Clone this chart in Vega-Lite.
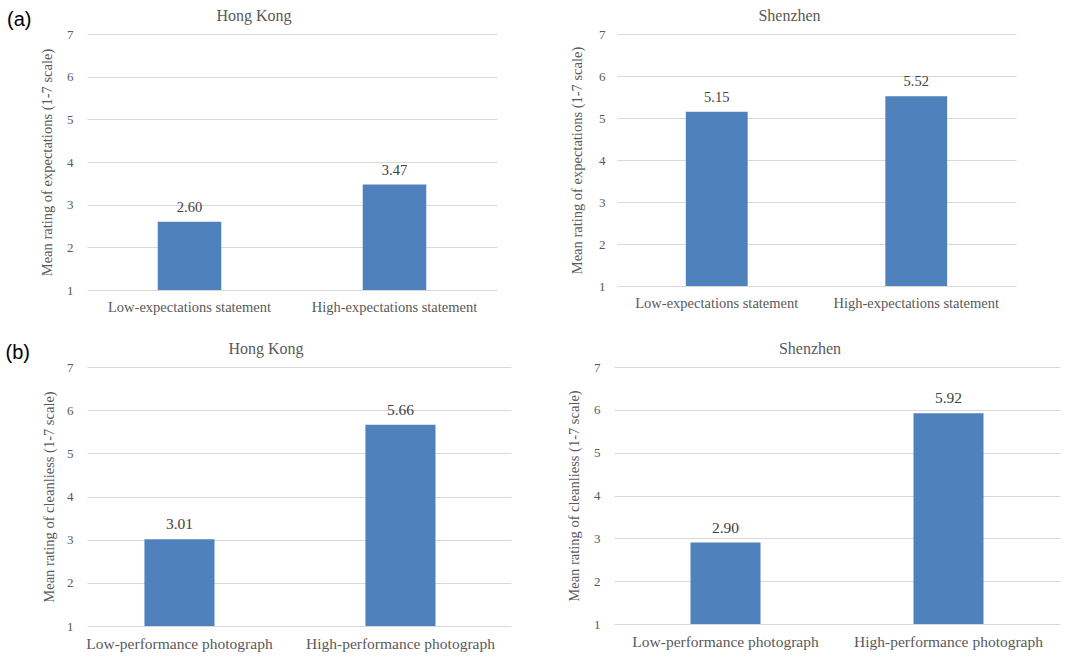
{
  "$schema": "https://vega.github.io/schema/vega-lite/v6.json",
  "padding": {"left": 5, "top": 8, "right": 5, "bottom": 5},
  "background": "white",
  "datasets": {
    "ratings": [
      {"panel": "a-HK", "condition": "Low-expectations statement", "mean": 2.60},
      {"panel": "a-HK", "condition": "High-expectations statement", "mean": 3.47},
      {"panel": "a-SZ", "condition": "Low-expectations statement", "mean": 5.15},
      {"panel": "a-SZ", "condition": "High-expectations statement", "mean": 5.52},
      {"panel": "b-HK", "condition": "Low-performance photograph", "mean": 3.01},
      {"panel": "b-HK", "condition": "High-performance photograph", "mean": 5.66},
      {"panel": "b-SZ", "condition": "Low-performance photograph", "mean": 2.90},
      {"panel": "b-SZ", "condition": "High-performance photograph", "mean": 5.92}
    ]
  },
  "config": {
    "view": {"stroke": null},
    "axis": {
      "labelFont": "Times New Roman, Liberation Serif, DejaVu Serif, serif",
      "titleFont": "Times New Roman, Liberation Serif, DejaVu Serif, serif",
      "labelColor": "#595959",
      "titleColor": "#595959",
      "titleFontWeight": "normal",
      "gridColor": "#d9d9d9",
      "gridWidth": 1,
      "domain": false,
      "ticks": false,
      "labelLimit": 0
    },
    "title": {
      "font": "Times New Roman, Liberation Serif, DejaVu Serif, serif",
      "fontWeight": "normal",
      "color": "#595959",
      "fontSize": 16
    }
  },
  "spacing": 27,
  "vconcat": [
    {
      "title": {"text": "(a)", "orient": "top", "anchor": "start", "offset": -22, "dx": -12, "font": "Liberation Sans, Arial, sans-serif", "fontSize": 20, "color": "#000000", "fontWeight": "normal"},
      "spacing": 72,
      "hconcat": [
        {
          "title": {"text": "Hong Kong", "dx": -38},
          "width": 410,
          "height": 256,
          "data": {"name": "ratings"},
          "transform": [{"filter": "datum.panel === 'a-HK'"}],
          "resolve": {"scale": {"y": "independent"}},
          "encoding": {
            "x": {"field": "condition", "type": "nominal", "sort": null, "scale": {"paddingInner": 0.69, "paddingOuter": 0.345}, "axis": {"title": null, "labelAngle": 0, "labelFontSize": 14.5, "labelPadding": 10, "grid": false}}
          },
          "layer": [
            {"mark": {"type": "bar", "color": "#4f81bd"}, "encoding": {
              "y": {"field": "mean", "type": "quantitative", "scale": {"domain": [1, 7]}, "axis": {"title": "Mean rating of expectations (1-7 scale)", "titleFontSize": 14.5, "labelFontSize": 13, "values": [1, 2, 3, 4, 5, 6, 7], "labelPadding": 14, "titlePadding": 12}},
              "y2": {"datum": 1}}},
            {"mark": {"type": "text", "baseline": "bottom", "dy": -7, "font": "Times New Roman, Liberation Serif, DejaVu Serif, serif", "fontSize": 14.5, "color": "#404040"}, "encoding": {
              "y": {"field": "mean", "type": "quantitative", "scale": {"domain": [1, 7]}, "axis": {"orient": "left", "offset": 51, "labels": false, "grid": false, "title": ".", "titlePadding": 2, "titleOpacity": 0, "titleFontSize": 14.5}},
              "text": {"field": "mean", "type": "quantitative", "format": ".2f"}}}
          ]
        },
        {
          "title": {"text": "Shenzhen", "dx": -27},
          "width": 399,
          "height": 252,
          "data": {"name": "ratings"},
          "transform": [{"filter": "datum.panel === 'a-SZ'"}],
          "encoding": {
            "x": {"field": "condition", "type": "nominal", "sort": null, "scale": {"paddingInner": 0.69, "paddingOuter": 0.345}, "axis": {"title": null, "labelAngle": 0, "labelFontSize": 14.5, "labelPadding": 10, "grid": false}},
            "y": {"field": "mean", "type": "quantitative", "scale": {"domain": [1, 7]}, "axis": {"title": "Mean rating of expectations (1-7 scale)", "titleFontSize": 14.5, "labelFontSize": 13, "values": [1, 2, 3, 4, 5, 6, 7], "labelPadding": 12, "titlePadding": 14}}
          },
          "layer": [
            {"mark": {"type": "bar", "color": "#4f81bd"}, "encoding": {"y2": {"datum": 1}}},
            {"mark": {"type": "text", "baseline": "bottom", "dy": -7, "font": "Times New Roman, Liberation Serif, DejaVu Serif, serif", "fontSize": 14.5, "color": "#404040"}, "encoding": {"text": {"field": "mean", "type": "quantitative", "format": ".2f"}}}
          ]
        }
      ]
    },
    {
      "title": {"text": "(b)", "orient": "top", "anchor": "start", "offset": -22, "dx": -36, "font": "Liberation Sans, Arial, sans-serif", "fontSize": 20, "color": "#000000", "fontWeight": "normal"},
      "spacing": 55,
      "hconcat": [
        {
          "title": {"text": "Hong Kong", "dx": -33},
          "width": 424,
          "height": 259,
          "data": {"name": "ratings"},
          "transform": [{"filter": "datum.panel === 'b-HK'"}],
          "encoding": {
            "x": {"field": "condition", "type": "nominal", "sort": null, "scale": {"paddingInner": 0.683, "paddingOuter": 0.3008, "align": 0.432}, "axis": {"title": null, "labelAngle": 0, "labelFontSize": 15.5, "labelPadding": 10, "grid": false}},
            "y": {"field": "mean", "type": "quantitative", "scale": {"domain": [1, 7]}, "axis": {"title": "Mean rating of cleanliess (1-7 scale)", "titleFontSize": 14.5, "labelFontSize": 13, "values": [1, 2, 3, 4, 5, 6, 7], "labelPadding": 14, "titlePadding": 10}}
          },
          "layer": [
            {"mark": {"type": "bar", "color": "#4f81bd"}, "encoding": {"y2": {"datum": 1}}},
            {"mark": {"type": "text", "baseline": "bottom", "dy": -7, "font": "Times New Roman, Liberation Serif, DejaVu Serif, serif", "fontSize": 15.5, "color": "#404040"}, "encoding": {"text": {"field": "mean", "type": "quantitative", "format": ".2f"}}}
          ]
        },
        {
          "title": {"text": "Shenzhen", "dx": -27},
          "width": 446,
          "height": 257,
          "data": {"name": "ratings"},
          "transform": [{"filter": "datum.panel === 'b-SZ'"}],
          "encoding": {
            "x": {"field": "condition", "type": "nominal", "sort": null, "scale": {"paddingInner": 0.686, "paddingOuter": 0.343}, "axis": {"title": null, "labelAngle": 0, "labelFontSize": 15.5, "labelPadding": 10, "grid": false}},
            "y": {"field": "mean", "type": "quantitative", "scale": {"domain": [1, 7]}, "axis": {"title": "Mean rating of cleanliess (1-7 scale)", "titleFontSize": 14.5, "labelFontSize": 13, "values": [1, 2, 3, 4, 5, 6, 7], "labelPadding": 14, "titlePadding": 12}}
          },
          "layer": [
            {"mark": {"type": "bar", "color": "#4f81bd"}, "encoding": {"y2": {"datum": 1}}},
            {"mark": {"type": "text", "baseline": "bottom", "dy": -7, "font": "Times New Roman, Liberation Serif, DejaVu Serif, serif", "fontSize": 15.5, "color": "#404040"}, "encoding": {"text": {"field": "mean", "type": "quantitative", "format": ".2f"}}}
          ]
        }
      ]
    }
  ]
}
